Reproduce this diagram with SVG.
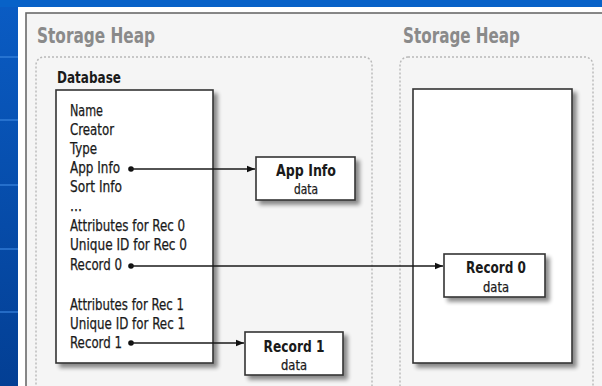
<svg xmlns="http://www.w3.org/2000/svg" width="602" height="386" viewBox="0 0 602 386">
<defs>
<linearGradient id="strip" x1="0" y1="0" x2="0" y2="1">
<stop offset="0" stop-color="#0a5cc4"/>
<stop offset="1" stop-color="#033f94"/>
</linearGradient>
<filter id="sh" x="-10%" y="-10%" width="130%" height="130%">
<feGaussianBlur in="SourceAlpha" stdDeviation="2"/>
<feOffset dx="4" dy="4" result="b"/>
<feComponentTransfer><feFuncA type="linear" slope="0.45"/></feComponentTransfer>
<feMerge><feMergeNode/><feMergeNode in="SourceGraphic"/></feMerge>
</filter>
<marker id="arr" viewBox="0 0 10 10" refX="10" refY="5" markerWidth="8" markerHeight="8" markerUnits="userSpaceOnUse" orient="auto">
<path d="M0,1 L10,5 L0,9 z" fill="#111"/>
</marker>
</defs>
<style>
.t{font-family:"DejaVu Sans Condensed","Liberation Sans",sans-serif;fill:#1a1a1a;font-size:15px;stroke:#1a1a1a;stroke-width:0.25;}
.b{font-weight:bold;stroke-width:0;}
.d{font-size:14px;}
.title{font-family:"DejaVu Sans Condensed","Liberation Sans",sans-serif;font-weight:bold;font-size:22px;fill:#8a8a8a;}
.box{fill:#fff;stroke:#333;stroke-width:1.6;}
.cont{fill:none;stroke:#b8b8b8;stroke-width:1.4;stroke-dasharray:2 2;}
.con{stroke:#1a1a1a;stroke-width:1.4;fill:none;}
.lt{stroke:#3b86e0;stroke-width:1.2;}
</style>
<rect x="0" y="0" width="602" height="386" fill="url(#strip)"/>
<rect x="0" y="0" width="602" height="7" fill="#0862c8"/>
<line class="lt" x1="0" y1="57" x2="18" y2="57"/>
<line class="lt" x1="0" y1="120" x2="18" y2="120"/>
<line class="lt" x1="0" y1="185" x2="18" y2="185"/>
<line class="lt" x1="0" y1="249" x2="18" y2="249"/>
<line class="lt" x1="0" y1="312" x2="18" y2="312"/>
<rect x="18" y="7" width="590" height="385" fill="#ffffff"/>
<rect x="26" y="13" width="590" height="385" fill="#f5f5f5" stroke="#6a6a6a" stroke-width="1.6"/>

<g id="heap1">
<text class="title" x="37" y="43" textLength="118" lengthAdjust="spacingAndGlyphs">Storage Heap</text>
<rect class="cont" x="36" y="57" width="336" height="345" rx="8"/>
</g>
<g id="heap2">
<text class="title" x="403" y="43" textLength="117" lengthAdjust="spacingAndGlyphs">Storage Heap</text>
<rect class="cont" x="400" y="57" width="193" height="345" rx="8"/>
<rect class="box" x="413" y="89" width="159" height="274" filter="url(#sh)"/>
</g>

<g id="database">
<text class="t b" x="57" y="83" font-size="16" textLength="64" lengthAdjust="spacingAndGlyphs">Database</text>
<rect class="box" x="56" y="90" width="157" height="273" filter="url(#sh)"/>
<text class="t" x="70" y="116" textLength="33" lengthAdjust="spacingAndGlyphs">Name</text>
<text class="t" x="70" y="135" textLength="44" lengthAdjust="spacingAndGlyphs">Creator</text>
<text class="t" x="70" y="154" textLength="27" lengthAdjust="spacingAndGlyphs">Type</text>
<text class="t" x="70" y="173" textLength="50" lengthAdjust="spacingAndGlyphs">App Info</text>
<text class="t" x="70" y="192" textLength="52" lengthAdjust="spacingAndGlyphs">Sort Info</text>
<text class="t" x="70" y="211" font-size="13" textLength="12" lengthAdjust="spacingAndGlyphs">...</text>
<text class="t" x="70" y="231" textLength="115" lengthAdjust="spacingAndGlyphs">Attributes for Rec 0</text>
<text class="t" x="70" y="250" textLength="117" lengthAdjust="spacingAndGlyphs">Unique ID for Rec 0</text>
<text class="t" x="70" y="270" textLength="52" lengthAdjust="spacingAndGlyphs">Record 0</text>
<text class="t" x="70" y="310" textLength="114" lengthAdjust="spacingAndGlyphs">Attributes for Rec 1</text>
<text class="t" x="70" y="329" textLength="115" lengthAdjust="spacingAndGlyphs">Unique ID for Rec 1</text>
<text class="t" x="70" y="348" textLength="52" lengthAdjust="spacingAndGlyphs">Record 1</text>
</g>

<g id="appinfo">
<rect class="box" x="256" y="157" width="99" height="43" filter="url(#sh)"/>
<text class="t b" x="306" y="176" text-anchor="middle" font-size="16" textLength="60" lengthAdjust="spacingAndGlyphs">App Info</text>
<text class="t d" x="306" y="194" text-anchor="middle" textLength="24" lengthAdjust="spacingAndGlyphs">data</text>
</g>
<g id="record0">
<rect class="box" x="444" y="254" width="101" height="43" filter="url(#sh)"/>
<text class="t b" x="496" y="273" text-anchor="middle" font-size="16" textLength="60" lengthAdjust="spacingAndGlyphs">Record 0</text>
<text class="t d" x="496" y="292" text-anchor="middle" textLength="26" lengthAdjust="spacingAndGlyphs">data</text>
</g>
<g id="record1">
<rect class="box" x="245" y="332" width="98" height="43" filter="url(#sh)"/>
<text class="t b" x="294" y="352" text-anchor="middle" font-size="16" textLength="61" lengthAdjust="spacingAndGlyphs">Record 1</text>
<text class="t d" x="294" y="370" text-anchor="middle" textLength="26" lengthAdjust="spacingAndGlyphs">data</text>
</g>

<g id="connectors">
<circle cx="131" cy="169" r="2.8" fill="#111"/>
<line class="con" x1="131" y1="169" x2="255" y2="169" marker-end="url(#arr)"/>
<circle cx="131" cy="266" r="2.8" fill="#111"/>
<line class="con" x1="131" y1="266" x2="443" y2="266" marker-end="url(#arr)"/>
<circle cx="131" cy="343" r="2.8" fill="#111"/>
<line class="con" x1="131" y1="343" x2="244" y2="343" marker-end="url(#arr)"/>
</g>
</svg>
